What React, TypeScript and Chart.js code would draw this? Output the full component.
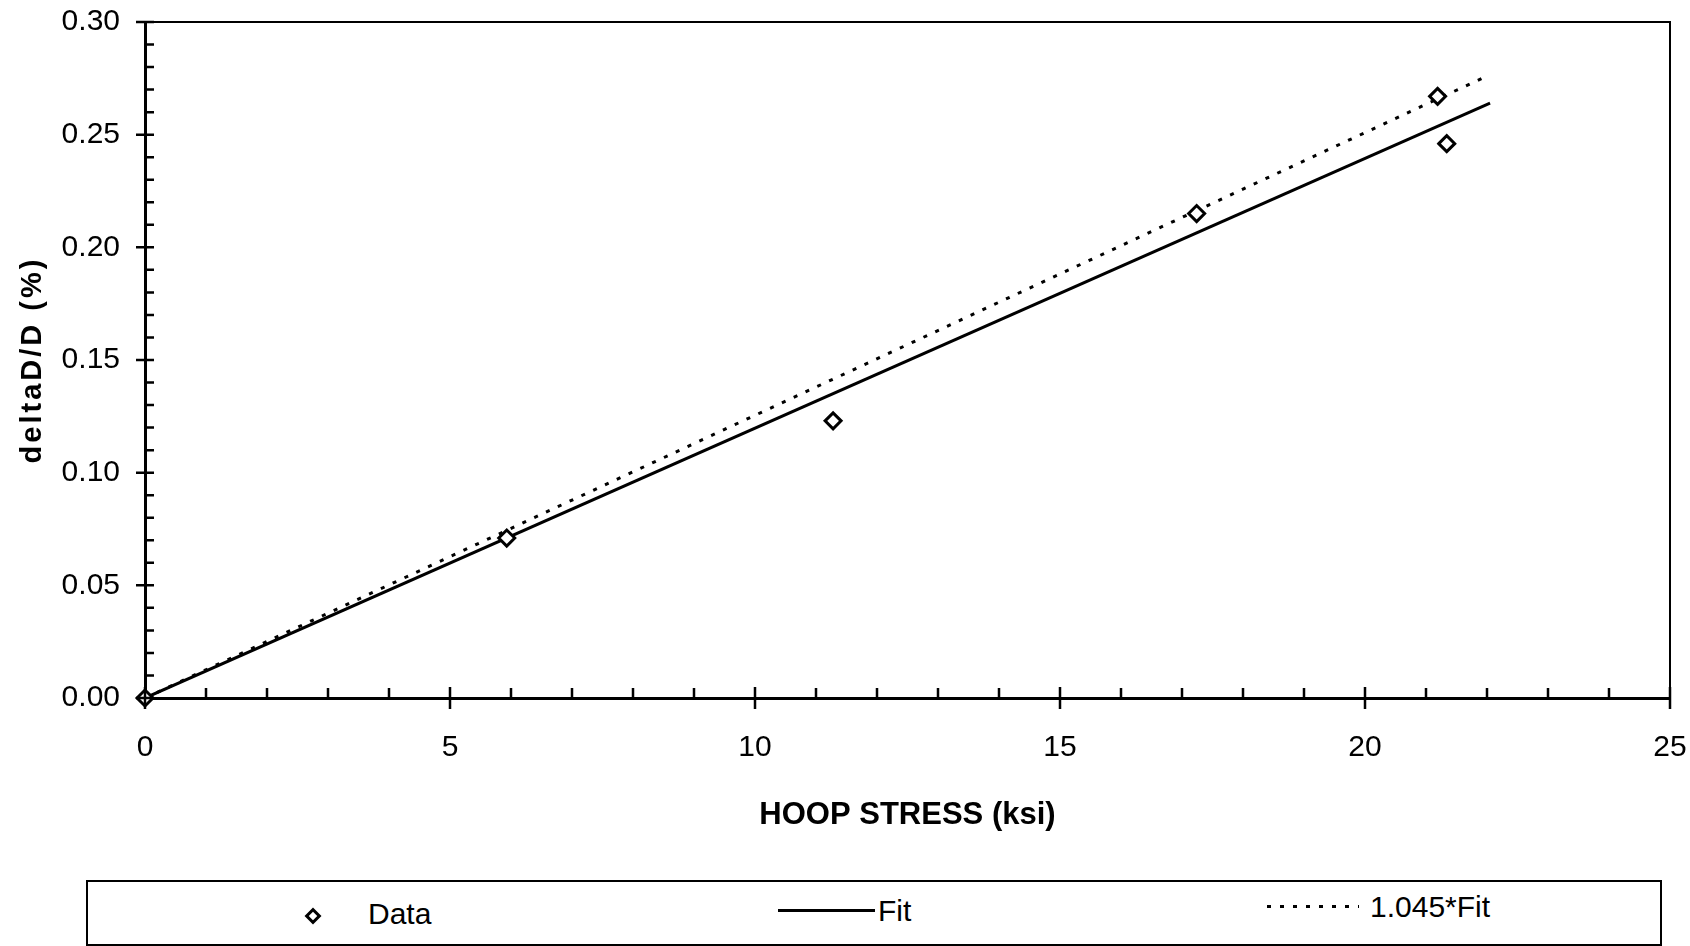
import React, { useEffect, useRef } from "react";
import { Chart, registerables } from "chart.js";

Chart.register(...registerables);

// ---- data ----
const dataX = [0, 5.93, 11.28, 17.24, 21.19, 21.34];
const dataY = [0, 0.071, 0.123, 0.215, 0.267, 0.246];
const fitX = [0, 22.05];
const fitY = [0, 0.264];
const fit2X = [0, 22.0];
const fit2Y = [0, 0.276];
const xTickValues = [0, 5, 10, 15, 20, 25];
const yTickValues = [0, 0.05, 0.1, 0.15, 0.2, 0.25, 0.3];
const seriesNames = ["Data", "Fit", "1.045*Fit"];
const xTitle = "HOOP STRESS (ksi)";
const yTitle = "deltaD/D (%)";

const FONT = "'Liberation Sans', Arial, Helvetica, sans-serif";

const pts = (xs: number[], ys: number[]) => xs.map((x, i) => ({ x, y: ys[i] }));

const decor = {
  id: "decor",
  beforeDraw(chart: any) {
    const s: any = chart.scales.y;
    if (s && !s.__ls) {
      const orig = s.drawTitle.bind(s);
      s.drawTitle = () => {
        const c: any = chart.ctx;
        c.letterSpacing = "3px";
        orig();
        c.letterSpacing = "0px";
      };
      s.__ls = true;
    }
  },
  afterDraw(chart: any) {
    const { ctx, chartArea: a, scales } = chart;
    const x = scales.x;
    const y = scales.y;
    ctx.save();
    ctx.strokeStyle = "#000";
    ctx.lineCap = "butt";
    // top and right frame
    ctx.lineWidth = 2;
    ctx.beginPath();
    ctx.moveTo(a.left, a.top);
    ctx.lineTo(a.right, a.top);
    ctx.lineTo(a.right, a.bottom);
    ctx.stroke();
    // y ticks: majors cross the axis, minors point inward
    ctx.lineWidth = 2.5;
    ctx.beginPath();
    for (let i = 0; i <= 30; i++) {
      const p = y.getPixelForValue(i / 100);
      if (i % 5 === 0) {
        ctx.moveTo(a.left - 9, p);
        ctx.lineTo(a.left + 9, p);
      } else {
        ctx.moveTo(a.left, p);
        ctx.lineTo(a.left + 9, p);
      }
    }
    // x ticks
    for (let i = 0; i <= 25; i++) {
      const p = x.getPixelForValue(i);
      if (i % 5 === 0) {
        ctx.moveTo(p, a.bottom + 11);
        ctx.lineTo(p, a.bottom - 11);
      } else {
        ctx.moveTo(p, a.bottom);
        ctx.lineTo(p, a.bottom - 10);
      }
    }
    ctx.stroke();
    ctx.restore();
  },
};

export default function App() {
  const ref = useRef<HTMLCanvasElement | null>(null);

  useEffect(() => {
    if (!ref.current) return;
    const chart = new Chart(ref.current, {
      type: "scatter",
      data: {
        datasets: [
          {
            label: seriesNames[1],
            data: pts(fitX, fitY),
            showLine: true,
            borderColor: "#000",
            borderWidth: 3,
            pointRadius: 0,
            order: 3,
          },
          {
            label: seriesNames[2],
            data: pts(fit2X, fit2Y),
            showLine: true,
            borderColor: "#000",
            borderWidth: 3,
            borderDash: [4, 9],
            pointRadius: 0,
            order: 2,
          },
          {
            label: seriesNames[0],
            data: pts(dataX, dataY),
            showLine: false,
            pointStyle: "rectRot",
            pointRadius: 8,
            borderWidth: 3,
            borderColor: "#000",
            backgroundColor: "#fff",
            clip: false,
            order: 1,
          },
        ],
      } as any,
      options: {
        animation: false,
        responsive: false,
        maintainAspectRatio: false,
        layout: { padding: { top: 22, right: 20, left: 0, bottom: 0 } },
        plugins: { legend: { display: false }, tooltip: { enabled: false } },
        scales: {
          x: {
            type: "linear",
            min: 0,
            max: 25,
            afterBuildTicks: (s: any) => {
              s.ticks = xTickValues.map((v) => ({ value: v }));
            },
            ticks: {
              font: { family: FONT, size: 30 },
              color: "#000",
              padding: 32,
              maxRotation: 0,
              autoSkip: false,
            },
            grid: { display: false, drawTicks: false },
            border: { display: true, color: "#000", width: 3 },
            title: {
              display: true,
              text: xTitle,
              color: "#000",
              font: { family: FONT, size: 31, weight: "bold" },
              padding: { top: 0, bottom: 26 },
            },
            afterFit: (s: any) => {
              s.height = 162;
              s.paddingLeft = 0;
              s.paddingRight = 0;
            },
          },
          y: {
            type: "linear",
            min: 0,
            max: 0.3,
            afterBuildTicks: (s: any) => {
              s.ticks = yTickValues.map((v) => ({ value: v }));
            },
            ticks: {
              font: { family: FONT, size: 30 },
              color: "#000",
              padding: 25,
              autoSkip: false,
              callback: (v: any) => Number(v).toFixed(2),
            },
            grid: { display: false, drawTicks: false },
            border: { display: true, color: "#000", width: 3 },
            title: {
              display: true,
              text: yTitle,
              color: "#000",
              font: { family: FONT, size: 29, weight: "bold" },
              padding: { top: 16, bottom: 0 },
            },
            afterFit: (s: any) => {
              s.width = 145;
              s.paddingTop = 0;
              s.paddingBottom = 0;
            },
          },
        },
      } as any,
      plugins: [decor],
    });
    return () => chart.destroy();
  }, []);

  const text: React.CSSProperties = {
    position: "absolute",
    fontFamily: FONT,
    fontSize: 30,
    lineHeight: "36px",
    color: "#000",
    whiteSpace: "nowrap",
  };

  return (
    <div
      style={{
        position: "fixed",
        left: 0,
        top: 0,
        width: 1690,
        height: 946,
        background: "#fff",
        overflow: "hidden",
      }}
    >
      <canvas ref={ref} width={1690} height={860} style={{ display: "block" }} />
      <div
        style={{
          position: "absolute",
          left: 86,
          top: 880,
          width: 1576,
          height: 66,
          border: "2px solid #000",
          boxSizing: "border-box",
        }}
      />
      <div
        style={{
          position: "absolute",
          left: 307,
          top: 910,
          width: 12,
          height: 12,
          border: "3px solid #000",
          boxSizing: "border-box",
          transform: "rotate(45deg)",
          background: "#fff",
        }}
      />
      <div style={{ ...text, left: 368, top: 896 }}>{seriesNames[0]}</div>
      <div
        style={{
          position: "absolute",
          left: 778,
          top: 909,
          width: 97,
          height: 3,
          background: "#000",
        }}
      />
      <div style={{ ...text, left: 878, top: 893 }}>{seriesNames[1]}</div>
      <div
        style={{
          position: "absolute",
          left: 1267,
          top: 905,
          width: 92,
          height: 3,
          background:
            "repeating-linear-gradient(to right, #000 0px, #000 4px, transparent 4px, transparent 13px)",
        }}
      />
      <div style={{ ...text, left: 1370, top: 889 }}>{seriesNames[2]}</div>
    </div>
  );
}
